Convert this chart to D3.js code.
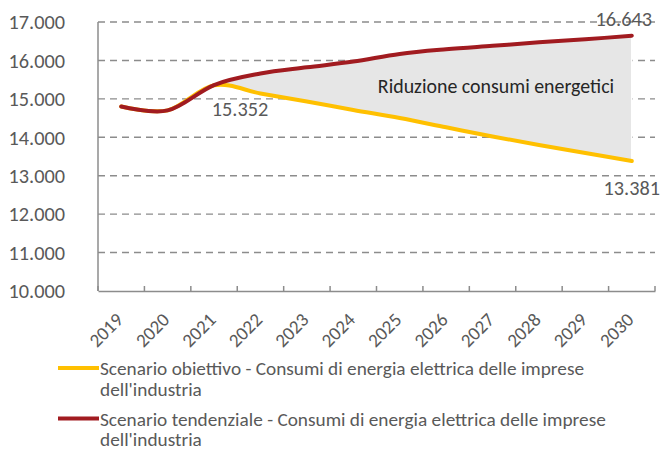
<!DOCTYPE html>
<meta charset="utf-8">
<script src="https://d3js.org/d3.v7.min.js"></script>
<style>
  body { margin: 0; background: #fff; }
  svg { display: block; font-family: Carlito, Lato, sans-serif; }
</style>
<div id="chart"></div>
<script>

    const width = 662;
    const height = 450;

    // data (GWh)
    const years = ["2019", "2020", "2021", "2022", "2023", "2024", "2025", "2026", "2027", "2028", "2029", "2030"];
    const obiettivo = [14800, 14700, 15352, 15140, 14930, 14710, 14500, 14260, 14020, 13800, 13590, 13381];
    const tendenziale = [14800, 14700, 15360, 15660, 15820, 15970, 16170, 16290, 16380, 16470, 16550, 16643];
    const yTicks = [10000, 11000, 12000, 13000, 14000, 15000, 16000, 17000];
    const legendLabels = [
        ["Scenario obiettivo - Consumi di energia elettrica delle imprese", "dell'industria"],
        ["Scenario tendenziale - Consumi di energia elettrica delle imprese", "dell'industria"]
    ];
    const colors = ["#ffc000", "#a11b20"];

    const marginLeft = 98, marginRight = 7, marginTop = 22, plotBottom = 291;

    const svg = d3.select("#chart")
        .append("svg")
        .attr("width", width)
        .attr("height", height);

    const x = d3.scaleBand()
        .domain(years)
        .range([marginLeft, width - marginRight]);
    const cx = d => x(d) + x.bandwidth() / 2;

    const y = d3.scaleLinear()
        .domain([10000, 17000])
        .range([plotBottom, marginTop]);

    const fmt = v => d3.format(",")(v).replace(/,/g, ".");

    // dashed gridlines
    svg.append("g")
        .selectAll("line")
        .data(yTicks.slice(1))
        .join("line")
        .attr("x1", marginLeft)
        .attr("x2", width - marginRight)
        .attr("y1", d => y(d))
        .attr("y2", d => y(d))
        .attr("stroke", "#8c8c8c")
        .attr("stroke-width", 1.4)
        .attr("stroke-dasharray", "7,5");

    // y labels
    svg.append("g")
        .selectAll("text")
        .data(yTicks)
        .join("text")
        .attr("x", 65)
        .attr("y", d => y(d))
        .attr("dy", "0.36em")
        .attr("text-anchor", "end")
        .attr("fill", "#595959")
        .attr("font-size", 20.3)
        .text(fmt);

    // shaded gap between the two scenarios (from 2021)
    const gap = years.map((d, i) => ({ year: d, lo: obiettivo[i], hi: tendenziale[i] })).slice(2);
    svg.append("path")
        .datum(gap)
        .attr("fill", "#e6e6e6")
        .attr("stroke", "#fff")
        .attr("stroke-width", 1.5)
        .attr("d", d3.area()
            .x(d => cx(d.year))
            .y0(d => y(d.lo))
            .y1(d => y(d.hi)));

    // axes
    svg.append("line")
        .attr("x1", marginLeft).attr("x2", marginLeft)
        .attr("y1", marginTop).attr("y2", plotBottom)
        .attr("stroke", "#8c8c8c").attr("stroke-width", 1.5);

    const bottom = svg.append("g")
        .attr("transform", `translate(0,${plotBottom})`)
        .call(d3.axisBottom(x).tickSize(0).tickSizeOuter(0).tickFormat(""));
    bottom.select(".domain").attr("stroke", "#8c8c8c").attr("stroke-width", 1.5);
    bottom.selectAll(".tick").remove();

    // tick marks between categories, pointing inward
    svg.append("g")
        .selectAll("line")
        .data(years.map(d => x(d)).concat([width - marginRight]))
        .join("line")
        .attr("x1", d => d).attr("x2", d => d)
        .attr("y1", plotBottom).attr("y2", plotBottom - 5)
        .attr("stroke", "#8c8c8c").attr("stroke-width", 1.5);

    // rotated year labels
    svg.append("g")
        .selectAll("text")
        .data(years)
        .join("text")
        .attr("transform", d => `translate(${cx(d) + 3},${plotBottom + 30}) rotate(-45)`)
        .attr("text-anchor", "end")
        .attr("fill", "#595959")
        .attr("font-size", 19)
        .text(d => d);

    // lines
    const line = d3.line()
        .x((d, i) => cx(years[i]))
        .y(d => y(d))
        .curve(d3.curveCardinal.tension(0));

    [obiettivo, tendenziale].forEach((s, k) => {
        svg.append("path")
            .datum(s)
            .attr("fill", "none")
            .attr("stroke", colors[k])
            .attr("stroke-width", 4)
            .attr("stroke-linecap", "round")
            .attr("d", line);
    });

    // data labels
    const labels = [
        { i: 2, v: obiettivo[2], dx: 26, dy: 31 },
        { i: 11, v: tendenziale[11], dx: -8, dy: -10 },
        { i: 11, v: obiettivo[11], dx: 0, dy: 34 }
    ];
    svg.append("g")
        .selectAll("text")
        .data(labels)
        .join("text")
        .attr("x", d => cx(years[d.i]) + d.dx)
        .attr("y", d => y(d.v) + d.dy)
        .attr("text-anchor", "middle")
        .attr("fill", "#595959")
        .attr("font-size", 20.3)
        .text(d => fmt(d.v));

    svg.append("text")
        .attr("x", 496)
        .attr("y", 93)
        .attr("text-anchor", "middle")
        .attr("fill", "#262626")
        .attr("font-size", 19.9)
        .text("Riduzione consumi energetici");

    // legend
    const legend = svg.append("g")
        .selectAll("g")
        .data(legendLabels)
        .join("g")
        .attr("transform", (d, i) => `translate(58,${368 + i * 50.5})`);

    legend.append("line")
        .attr("x1", 0).attr("x2", 41)
        .attr("stroke", (d, i) => colors[i])
        .attr("stroke-width", 4);

    legend.append("text")
        .attr("fill", "#595959")
        .attr("font-size", 19.3)
        .selectAll("tspan")
        .data(d => d)
        .join("tspan")
        .attr("x", 42)
        .attr("y", (d, j) => 7 + j * 20.5)
        .text(d => d);

</script>
